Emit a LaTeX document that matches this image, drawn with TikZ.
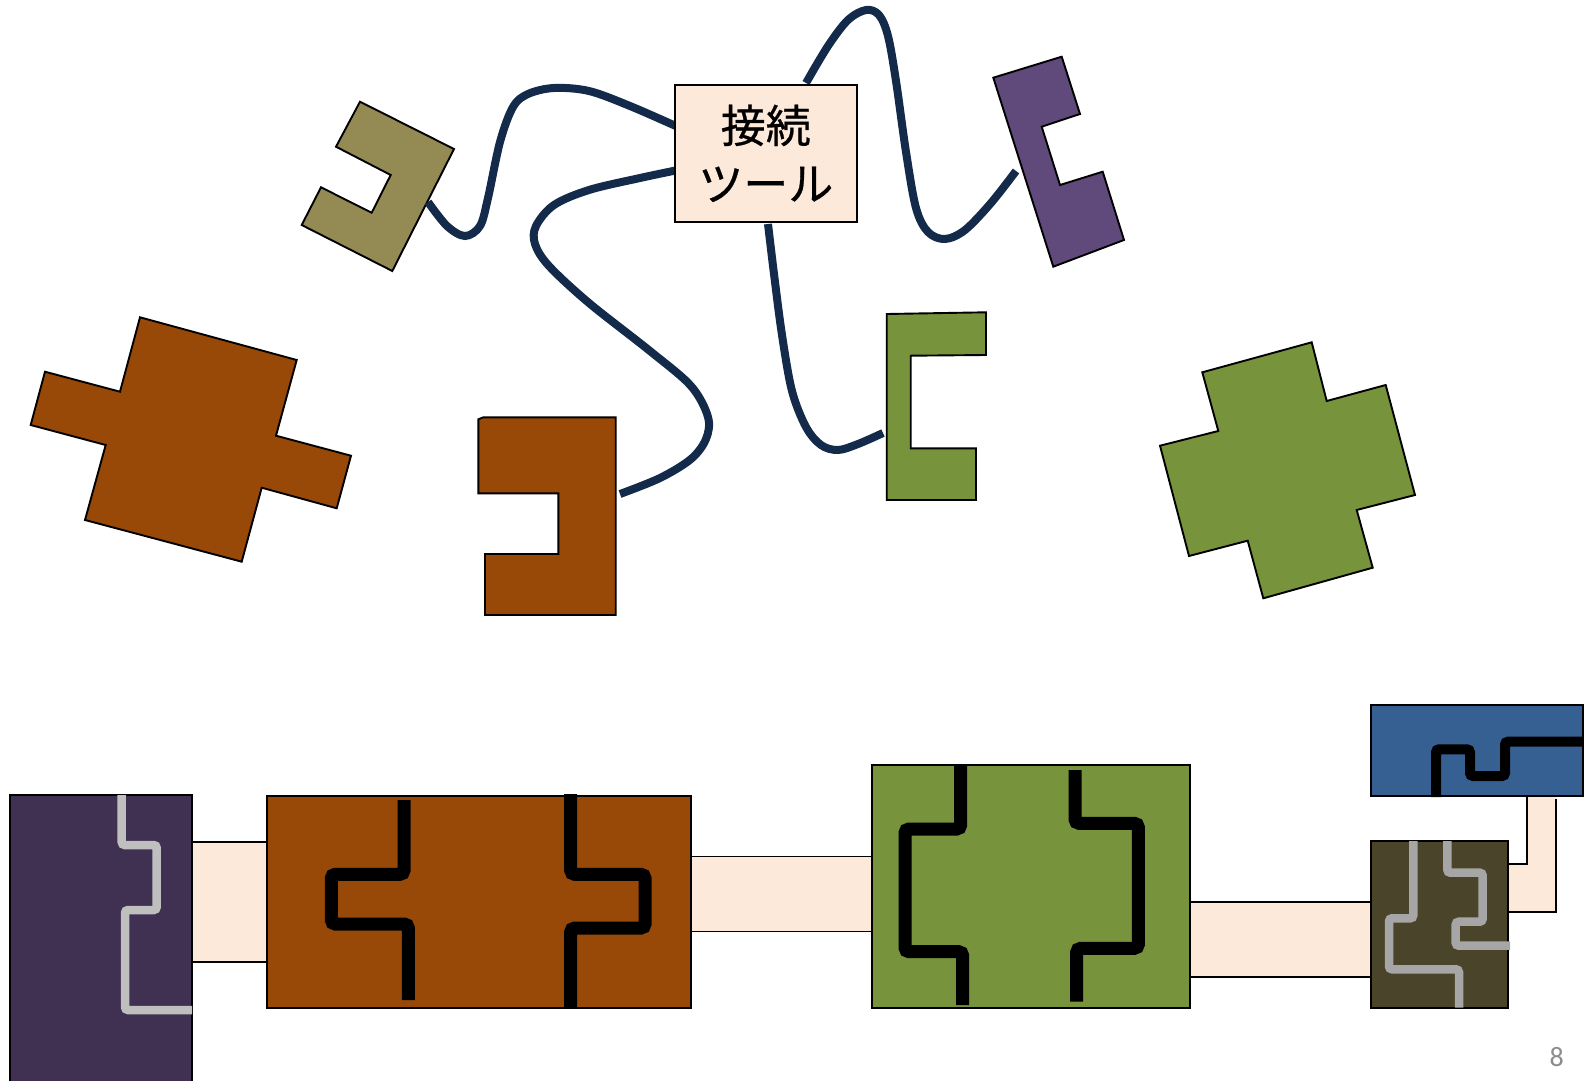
\documentclass[tikz,border=0pt]{standalone}
\usepackage{fontspec}
\newfontfamily\jpfont[FakeBold=0.6]{Noto Sans CJK JP}
\newfontfamily\numfont{Carlito}
\definecolor{brownc}{HTML}{984807}
\definecolor{greenc}{HTML}{77933C}
\definecolor{olivec}{HTML}{948A54}
\definecolor{purplec}{HTML}{604A7B}
\definecolor{dpurple}{HTML}{403152}
\definecolor{dolive}{HTML}{4A452A}
\definecolor{bluec}{HTML}{376092}
\definecolor{peach}{HTML}{FDE9D9}
\definecolor{navy}{HTML}{142A4A}
\definecolor{lgrey}{HTML}{BFBFBF}
\definecolor{mgrey}{HTML}{A6A6A6}
\definecolor{pgnum}{HTML}{8C8C8C}
\tikzset{
  piece/.style={draw=black, line width=1.9pt, line join=miter},
  wire/.style={draw=navy, line width=8pt},
  tube/.style={fill=peach, draw=black, line width=1.6pt},
  block/.style={draw=black, line width=1.7pt},
  blackpath/.style={draw=black, line width=13pt, rounded corners=4pt},
  greypath/.style={line width=8.5pt, rounded corners=3pt},
}
\begin{document}
\begin{tikzpicture}[x=1pt,y=-1pt]
\useasboundingbox (0,0) rectangle (1593,1081);

% ---------- upper pieces ----------
\draw[piece, fill=olivec] (360,101.7) -- (454,149) -- (392.3,271) -- (301.7,225) -- (321,187.3) -- (371.7,212.7) -- (390.7,175) -- (336,146.7) -- cycle;
\draw[piece, fill=purplec] (993.3,77.7) -- (1061.7,56.7) -- (1080,114) -- (1041.7,126.7) -- (1060,185) -- (1102.7,171.7) -- (1124,240) -- (1053.3,266.7) -- cycle;
\draw[piece, fill=greenc] (886.7,314) -- (986,312.3) -- (986,355) -- (910.7,355.7) -- (910.7,448.3) -- (976,448.3) -- (976,500) -- (886.7,500) -- cycle;
\draw[piece, fill=brownc] (478.3,419.3) -- (483.3,417.3) -- (615.7,417.3) -- (615.7,615) -- (485,615) -- (485,554) -- (558.3,554) -- (558.3,493.3) -- (478.3,493.3) -- cycle;
\draw[piece, fill=brownc] (140,317.3) -- (296.7,360) -- (276,435.7) -- (351,455.7) -- (336.7,508.3) -- (261.7,487.7) -- (241.7,561.7) -- (85,520) -- (105.7,445) -- (30.7,425) -- (45,371.7) -- (120,391.7) -- cycle;
\draw[piece, fill=greenc] (1202.3,372.3) -- (1311.7,342.3) -- (1326.7,401) -- (1385.7,385) -- (1415,495) -- (1356.7,510) -- (1372.7,567.7) -- (1263.3,598.3) -- (1247.7,540.7) -- (1189,556) -- (1160,445.7) -- (1218.3,431) -- cycle;

% connection points
\coordinate (pOlive) at (428,202);
\coordinate (pBrown) at (620,494);
\coordinate (pGreen) at (883,433);
\coordinate (pPurple) at (1016,171);
\coordinate (tL1) at (678,127);
\coordinate (tL2) at (678,170);
\coordinate (tB) at (768,224);
\coordinate (tT) at (806,83);

% wires
\draw[wire] plot[smooth, tension=0.55] coordinates {(pOlive) (447,226) (465,236) (480,226) (488,198) (500,142) (513,107) (528,94) (554,88) (589,91) (630,106) (tL1)};
\draw[wire] plot[smooth, tension=0.55] coordinates {(tL2) (640,178) (589,190) (554,205) (536,226) (535,244) (549,266) (589,303) (650,351) (691,386) (708,417) (706,439) (691,459) (660,478) (pBrown)};
\draw[wire] plot[smooth, tension=0.55] coordinates {(tB) (774,274) (782,335) (792,391) (806,427) (821,445) (838,450) (858,444) (pGreen)};
\draw[wire] plot[smooth, tension=0.55] coordinates {(tT) (828,46) (848,20) (866,10) (879,15) (888,36) (896,81) (906,152) (916,208) (928,232) (945,239) (965,230) (991,203) (pPurple)};

% connection tool box
\node[draw=black, line width=1.7pt, fill=peach, minimum width=181.7pt, minimum height=136.7pt, inner sep=0pt, align=center, font=\jpfont\fontsize{45}{58}\selectfont] (tool) at (765.8,153.3) {接続\\ツール};

% ---------- lower assembly ----------
\draw[tube] (192,841.7) rectangle (267.7,962);
\draw[tube] (691,856.5) rectangle (872,931.6);
\draw[tube] (1189,901.7) rectangle (1371,976.7);
\fill[peach] (1526.7,796) -- (1526.7,864) -- (1500,864) -- (1500,911.7) -- (1556,911.7) -- (1556,796) -- cycle;
\draw[black, line width=1.6pt] (1526.7,796) -- (1526.7,864) -- (1505,864);
\draw[black, line width=1.6pt] (1556,799) -- (1556,911.7) -- (1505,911.7);

% dark purple block
\draw[block, fill=dpurple] (10,795) rectangle (192,1090);
\draw[greypath, draw=lgrey] (121.7,795) -- (121.7,845) -- (156.7,845) -- (156.7,910) -- (125,910) -- (125,1010) -- (192,1010);

% brown block
\draw[block, fill=brownc] (267.3,795.7) rectangle (691,1007.7);
\draw[blackpath] (404,800) -- (404,874.3) -- (331.3,874.3) -- (331.3,924) -- (408.3,924) -- (408.3,1000);
\draw[blackpath] (570.7,794) -- (570.7,874.3) -- (645,874.3) -- (645,928) -- (570.7,928) -- (570.7,1007.7);

% green block
\draw[block, fill=greenc] (871.7,765) rectangle (1190,1007.7);
\draw[blackpath] (960.7,765) -- (960.7,829) -- (905,829) -- (905,951.7) -- (962.7,951.7) -- (962.7,1005);
\draw[blackpath] (1075,770) -- (1075,823.3) -- (1138.3,823.3) -- (1138.3,948.3) -- (1076.7,948.3) -- (1076.7,1001.7);

% dark olive block
\draw[block, fill=dolive] (1371,841) rectangle (1507.7,1007.7);
\draw[greypath, draw=mgrey] (1413.3,841) -- (1413.3,918.3) -- (1389,918.3) -- (1389,969.3) -- (1459,969.3) -- (1459,1007.7);
\draw[greypath, draw=mgrey] (1447.3,841) -- (1447.3,872.7) -- (1482.7,872.7) -- (1482.7,921.7) -- (1455.7,921.7) -- (1455.7,945.7) -- (1510,945.7);

% blue block
\draw[block, fill=bluec] (1371,705) rectangle (1582.7,796);
\draw[draw=black, line width=10pt, rounded corners=3pt] (1436,797) -- (1436,749.3) -- (1470,749.3) -- (1470,776) -- (1505,776) -- (1505,741.7) -- (1582.7,741.7);

% page number
\node[text=pgnum, font=\numfont\fontsize{28}{32}\selectfont, inner sep=0pt] (pagenum) at (1556.7,1056.7) {8};
\end{tikzpicture}
\end{document}
